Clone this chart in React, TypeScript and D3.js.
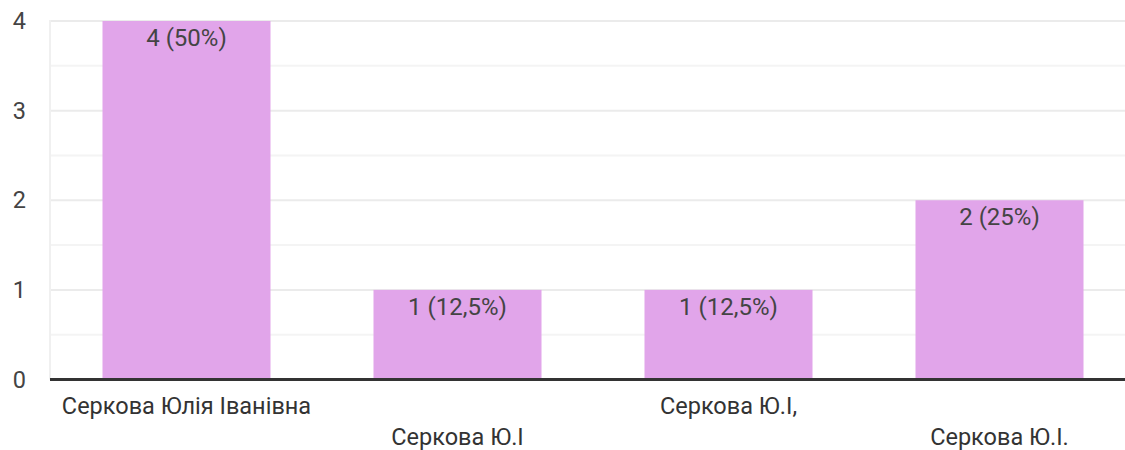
import React from "react";
import * as d3 from "d3";

const categories = ["Серкова Юлія Іванівна", "Серкова Ю.І", "Серкова Ю.І,", "Серкова Ю.І."];
const values = [4, 1, 1, 2];
const valueLabels = ["4 (50%)", "1 (12,5%)", "1 (12,5%)", "2 (25%)"];
const yTicks = [0, 1, 2, 3, 4];
const yMinorTicks = [0.5, 1.5, 2.5, 3.5];

const W = 1125;
const H = 450;
const FONT = "Roboto, Arial, sans-serif";

export default function App() {
  const x = d3
    .scaleBand<string>()
    .domain(categories)
    .range([51, 1135])
    .paddingInner(0.38)
    .paddingOuter(0.19);
  const y = d3.scaleLinear().domain([0, 4]).range([379.5, 21]);

  return (
    <svg
      width={W}
      height={H}
      style={{ position: "absolute", left: 0, top: 0, background: "#fff" }}
      fontFamily={FONT}
    >
      <line x1={50} x2={50} y1={y(4) - 1} y2={y(0)} stroke="#f0f0f0" strokeWidth={2} />
      {yMinorTicks.map((t) => (
        <line key={"m" + t} x1={51} x2={W} y1={y(t)} y2={y(t)} stroke="#f4f4f4" strokeWidth={2} />
      ))}
      {yTicks.map((t) => (
        <line key={"g" + t} x1={51} x2={W} y1={y(t)} y2={y(t)} stroke="#ebebeb" strokeWidth={2} />
      ))}
      {categories.map((c, i) => (
        <rect
          key={c}
          x={x(c)}
          y={y(values[i])}
          width={x.bandwidth()}
          height={y(0) - y(values[i])}
          fill="#e1a5ea"
        />
      ))}
      {categories.map((c, i) => (
        <text
          key={"v" + c}
          x={(x(c) as number) + x.bandwidth() / 2}
          y={y(values[i]) + 25}
          textAnchor="middle"
          fontSize={24}
          fill="#444"
        >
          {valueLabels[i]}
        </text>
      ))}
      <line x1={50} x2={W} y1={y(0)} y2={y(0)} stroke="#333" strokeWidth={3} />
      {yTicks.map((t) => (
        <text key={"t" + t} x={26} y={y(t) + 8} textAnchor="end" fontSize={23.5} fill="#444">
          {t}
        </text>
      ))}
      {categories.map((c, i) => (
        <text
          key={"x" + c}
          x={(x(c) as number) + x.bandwidth() / 2}
          y={i % 2 === 0 ? 414 : 445}
          textAnchor="middle"
          fontSize={23.5}
          fill="#333"
        >
          {c}
        </text>
      ))}
    </svg>
  );
}
